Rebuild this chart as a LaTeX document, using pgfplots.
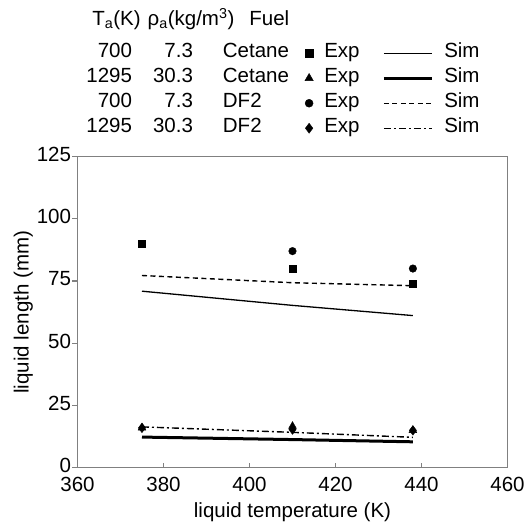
\documentclass[border=0pt]{standalone}
\usepackage{fontspec}
\setmainfont{Liberation Sans}
\usepackage{pgfplots}
\pgfplotsset{compat=1.18}
\newcommand{\rowtxt}[3]{\makebox[45pt][r]{#1}\makebox[61pt][r]{#2}\hspace{30pt}\makebox[82pt][l]{#3}}
\begin{document}
\begin{tikzpicture}[font=\fontsize{20.5}{24}\selectfont]
\path[use as bounding box] (-77.5pt,-60.3pt) rectangle (447.5pt,467.7pt);
\begin{axis}[
  at={(0pt,0pt)}, anchor=south west,
  scale only axis, width=430pt, height=311.2pt,
  clip mode=individual,
  xmin=360, xmax=460, ymin=0, ymax=125,
  xtick={360,380,...,460}, ytick={0,25,...,125},
  xtick pos=bottom, ytick pos=left,
  xtick align=inside, ytick align=outside,
  major tick length=5pt,
  tick style={gray, line width=1.2pt},
  axis line style={gray, line width=1.5pt},
  /pgf/number format/assume math mode=true,
  /pgf/number format/1000 sep={},
  xticklabel style={yshift=-6pt},
  yticklabel style={xshift=2pt, yshift=2pt},
  xlabel={liquid temperature (K)},
  ylabel={liquid length (mm)},
  xlabel style={yshift=-4pt},
  ylabel style={yshift=-3pt},
  legend columns=3,
  legend image code/.code={\draw[mark repeat=2,mark phase=2,#1] plot coordinates {(0pt,0pt)(24pt,0pt)(48pt,0pt)};},
  legend style={draw=none, fill=none, inner sep=0pt, outer sep=0pt,
    column sep=0pt, row sep=0pt,
    at={(axis description cs:0.022,1.372)}, anchor=north west,
    nodes={inner sep=0pt, text height=17pt, text depth=8pt}},
  legend cell align=left,
]
% simulations
\addplot[forget plot, black, line width=1.3pt] coordinates {(375,70.9) (410,65.2) (438,61.1)};
\addplot[forget plot, black, line width=3pt] coordinates {(375,12.3) (410,11.3) (438,10.4)};
\addplot[forget plot, black, line width=1.4pt, dash pattern=on 5pt off 3.5pt] coordinates {(375,77.2) (410,74.3) (438,73.1)};
\addplot[forget plot, black, line width=1.4pt, dash pattern=on 7pt off 3pt on 2pt off 3pt] coordinates {(375,16.4) (410,14.2) (438,12.2)};
% experiments
\addplot[forget plot, only marks, mark=square*, mark size=3.6pt, black] coordinates {(375,90) (410,80) (438,74)};
\addplot[forget plot, only marks, mark=triangle*, mark size=4.5pt, black] coordinates {(375,16) (410,16.7) (438,15)};
\addplot[forget plot, only marks, mark=*, mark size=3.8pt, black] coordinates {(410,87) (438,80)};
\addplot[forget plot, only marks, mark=diamond*, mark size=4.8pt, black] coordinates {(375,16) (410,15.3) (438,15)};
% legend
\addlegendimage{empty legend}\addlegendentry{\rowtxt{700}{7.3}{Cetane}}
\addlegendimage{only marks, mark=square*, mark size=3.8pt, black}\addlegendentry{\hspace{11pt}\makebox[58pt][l]{Exp}}
\addlegendimage{black, line width=1.3pt}\addlegendentry{\hspace{11pt}Sim}
\addlegendimage{empty legend}\addlegendentry{\rowtxt{1295}{30.3}{Cetane}}
\addlegendimage{only marks, mark=triangle*, mark size=4.8pt, black}\addlegendentry{\hspace{11pt}\makebox[58pt][l]{Exp}}
\addlegendimage{black, line width=3pt}\addlegendentry{\hspace{11pt}Sim}
\addlegendimage{empty legend}\addlegendentry{\rowtxt{700}{7.3}{DF2}}
\addlegendimage{only marks, mark=*, mark size=4pt, black}\addlegendentry{\hspace{11pt}\makebox[58pt][l]{Exp}}
\addlegendimage{black, line width=1.4pt, dash pattern=on 5pt off 3.5pt}\addlegendentry{\hspace{11pt}Sim}
\addlegendimage{empty legend}\addlegendentry{\rowtxt{1295}{30.3}{DF2}}
\addlegendimage{only marks, mark=diamond*, mark size=5pt, black}\addlegendentry{\hspace{11pt}\makebox[58pt][l]{Exp}}
\addlegendimage{black, line width=1.4pt, dash pattern=on 7pt off 3pt on 2pt off 3pt}\addlegendentry{\hspace{11pt}Sim}
\node[anchor=base west, inner sep=0pt] at (axis description cs:0.034,1.42) {T\textsubscript{a}(K)\hspace{7pt}ρ\textsubscript{a}(kg/m\textsuperscript{3})\hspace{15pt}Fuel};
\end{axis}
\end{tikzpicture}
\end{document}
